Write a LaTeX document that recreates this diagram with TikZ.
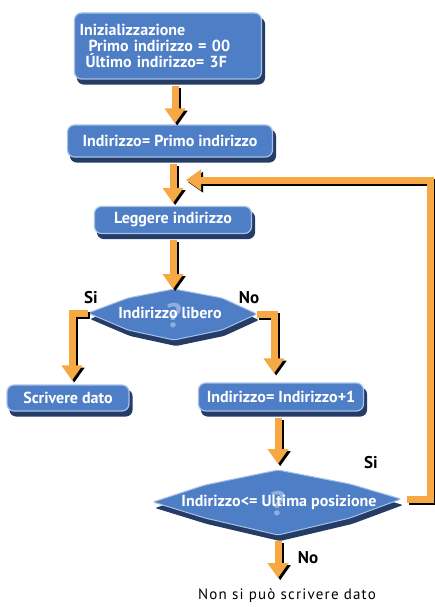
\documentclass[tikz,border=0pt]{standalone}
\usepackage{fontspec}
\setmainfont{PT Sans}
\newfontfamily\endfont{PT Sans}[LetterSpace=8]
\usetikzlibrary{arrows.meta,calc}
\pgfdeclarelayer{bg}
\pgfsetlayers{bg,main}
\definecolor{boxblue}{HTML}{4E7EC6}
\definecolor{boxedge}{HTML}{A7C1E8}
\definecolor{boxshadow}{HTML}{243C66}
\definecolor{arrorange}{HTML}{F5A844}
\definecolor{qmark}{HTML}{8FAEDD}
\tikzset{
  box/.style={draw=boxedge, line width=1.2pt, fill=boxblue, rounded corners=7pt,
    text=white, font=\fontsize{16}{16}\selectfont\bfseries, inner sep=0pt},
  boxsh/.style={fill=boxshadow, rounded corners=7pt},
  dia/.style={fill=boxblue, draw=boxedge, line width=1pt, rounded corners=2pt},
  diatext/.style={text=white, font=\fontsize{16}{16}\selectfont\bfseries, inner sep=0pt},
  qm/.style={text=qmark, font=\fontsize{34}{34}\selectfont\bfseries, inner sep=0pt},
  arr/.style={draw=arrorange, line width=7pt, -{Triangle[width=20pt,length=15pt]}},
  arrshadow/.style={draw=black, line width=7pt, -{Triangle[width=20pt,length=15pt]}},
  lbl/.style={text=black, font=\fontsize{17}{17}\selectfont\bfseries, inner sep=0pt},
  endtext/.style={text=black, font=\fontsize{15}{15}\endfont, inner sep=0pt}
}
\newcommand\flowarrow[1]{%
  \begin{scope}[transform canvas={shift={(2.2,2.2)}}]\draw[arrshadow] #1;\end{scope}
  \draw[arr] #1;}
\newcommand\boxshadow[1]{%
  \fill[boxsh] ($(#1.south west)+(3,5)$) rectangle ($(#1.north east)+(3,5)$);}
\begin{document}
\begin{tikzpicture}[x=1pt,y=-1pt]
\useasboundingbox (0,0) rectangle (435,607);
\begin{pgfonlayer}{bg}
\fill[white] (0,0) rectangle (435,607);
\end{pgfonlayer}

% boxes
\node[box, minimum width=187pt, minimum height=66pt, text width=177pt, align=left] (init) at (168,46)
  {Inizializzazione\\\hspace*{9pt}Primo indirizzo = 00\\\hspace*{6pt}Último indirizzo= 3F};
\node[box, minimum width=205pt, minimum height=32pt] (box2) at (170,141) {Indirizzo= Primo indirizzo};
\node[box, minimum width=157pt, minimum height=27pt] (box3) at (173,220) {Leggere indirizzo};
\node[box, minimum width=122pt, minimum height=26pt] (scr) at (68,398) {Scrivere dato};
\node[box, minimum width=165pt, minimum height=28pt] (inc) at (281,397) {Indirizzo= Indirizzo+1};
\begin{pgfonlayer}{bg}
\boxshadow{init}
\boxshadow{box2}
\boxshadow{box3}
\boxshadow{scr}
\boxshadow{inc}
\end{pgfonlayer}

% diamond 1
\coordinate (d1l) at (88,313);
\coordinate (d1t) at (174,289);
\coordinate (d1r) at (257,314);
\coordinate (d1b) at (174,340);
\begin{scope}[transform canvas={shift={(2,6)}}]
\fill[boxshadow, rounded corners=2pt] (d1l) -- (128,298) -- (d1t) -- (222,298) -- (d1r) -- (222,330) -- (d1b) -- (128,330) -- cycle;
\end{scope}
\draw[dia] (d1l) -- (128,298) -- (d1t) -- (222,298) -- (d1r) -- (222,330) -- (d1b) -- (128,330) -- cycle;
\node[qm] (q1) at (174,316) {?};
\node[diatext] (dec1) at (170,313) {Indirizzo libero};

% diamond 2
\coordinate (d2l) at (153,502);
\coordinate (d2t) at (278,470);
\coordinate (d2r) at (401,499);
\coordinate (d2b) at (278,535);
\begin{scope}[transform canvas={shift={(2,6)}}]
\fill[boxshadow, rounded corners=2pt] (d2l) -- (205,485) -- (d2t) -- (350,484) -- (d2r) -- (350,518) -- (d2b) -- (205,518) -- cycle;
\end{scope}
\draw[dia] (d2l) -- (205,485) -- (d2t) -- (350,484) -- (d2r) -- (350,518) -- (d2b) -- (205,518) -- cycle;
\node[qm] (q2) at (278,504) {?};
\node[diatext] (dec2) at (279,502) {Indirizzo<= Ultima posizione};

% helper coordinates
\coordinate (c1) at (175,0);
\coordinate (c2) at (173,0);
\coordinate (c3) at (278,0);
\coordinate (sL) at (72,0);
\coordinate (sR) at (274,0);
\coordinate (fb) at (430,0);
\coordinate (join) at (186,180);
\coordinate (noend) at (278,578);

% connectors
\flowarrow{($(init.south -| c1)+(0,6)$) -- ($(box2.north -| c1)+(0,-1)$)}
\flowarrow{($(box2.south -| c2)+(0,6)$) -- ($(box3.north -| c2)+(0,-3)$)}
\flowarrow{($(box3.south -| c2)+(0,6)$) -- (d1t -| c2)}
\flowarrow{(d1l) -- (d1l -| sL) -- ($(scr.north -| sL)+(0,-4)$)}
\flowarrow{(d1r) -- (d1r -| sR) -- ($(inc.north -| sR)+(0,-9)$)}
\flowarrow{($(inc.south -| c3)+(0,6)$) -- ($(d2t -| c3)+(0,-6)$)}
\flowarrow{($(d2b -| c3)+(0,6)$) -- (noend)}
\flowarrow{($(d2r)+(6,0)$) -- (d2r -| fb) -- (fb |- join) -- (join)}

% labels
\node[lbl] (si1) at (91,298) {Si};
\node[lbl] (no1) at (249,298) {No};
\node[lbl] (si2) at (371,463) {Si};
\node[lbl] (no2) at (308,558) {No};
\node[endtext] (endt) at (287,596) {Non si può scrivere dato};
\end{tikzpicture}
\end{document}
